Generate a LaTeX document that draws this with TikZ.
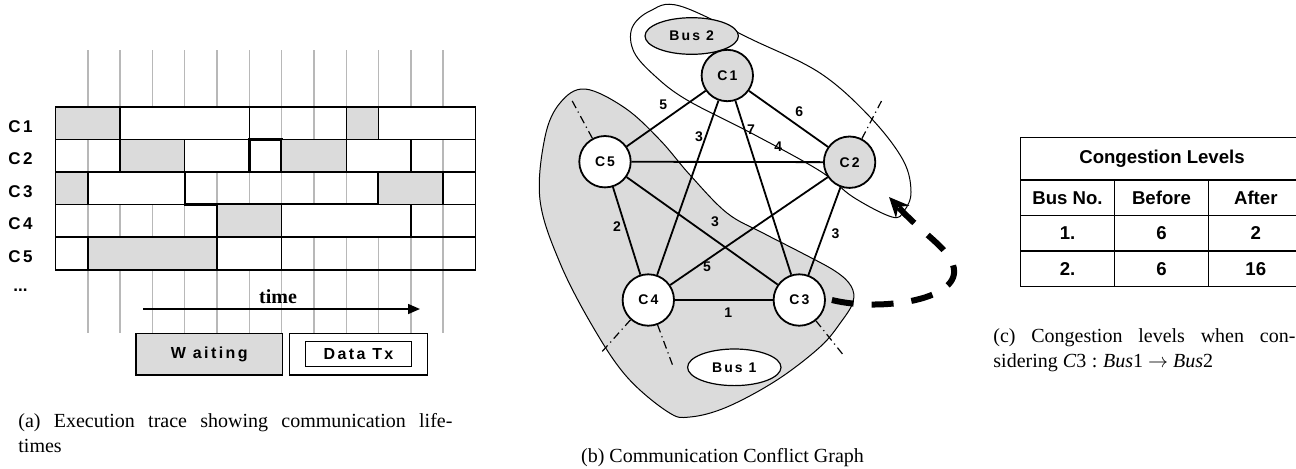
\documentclass[tikz,border=0pt]{standalone}
\usepackage{fontspec}
\setmainfont{Liberation Serif}
\setsansfont{Liberation Sans}
\newcommand\spacedbf[2]{\fontsize{#1}{#2}\selectfont\sffamily\bfseries\addfontfeature{LetterSpace=15}}
\usetikzlibrary{arrows.meta,shapes.geometric}
\definecolor{lightfill}{gray}{0.86}
\definecolor{gridgray}{gray}{0.72}

\begin{document}
\begin{tikzpicture}[x=0.5pt,y=-0.5pt,
  rowlbl/.style={font=\spacedbf{8.5}{9},inner sep=0pt},
  legend/.style={draw,line width=0.7pt,inner sep=0pt,font=\spacedbf{8}{9}},
  comm/.style={circle,draw,line width=0.9pt,minimum size=25.7pt,inner sep=0pt,font=\spacedbf{7}{8}},
  busname/.style={ellipse,draw,line width=0.6pt,minimum width=46.7pt,minimum height=18.3pt,inner sep=0pt,font=\spacedbf{7}{8}},
  elbl/.style={font=\sffamily\bfseries\fontsize{7}{8}\selectfont,inner sep=0pt},
  stub/.style={line width=0.6pt,dash pattern=on 4pt off 2pt on 0.6pt off 2pt},
  busmove/.style={line width=3pt,dash pattern=on 11pt off 9pt,-{Stealth[length=10pt,width=9pt]}},
  tbl/.style={font=\sffamily\bfseries\fontsize{9.3}{10}\selectfont,inner sep=0pt},
  capt/.style={font=\fontsize{10}{12.5}\selectfont,inner sep=0pt}]
  \useasboundingbox (0,0) rectangle (1296,468);

  % (a) execution trace
  \foreach \k in {1,...,12}
    \draw[gridgray,line width=0.7pt] ({55.5+32.3*\k},50) -- ({55.5+32.3*\k},333);
  \foreach \r/\s/\e/\c/\w in {1/0/2/lightfill/0.7, 1/2/6/white/0.7, 1/9/10/lightfill/0.7, 1/10/13/white/0.7,
      2/2/4/lightfill/0.7, 2/4/6/white/0.7, 2/6/7/white/1.3, 2/7/9/lightfill/0.7, 2/9/11/white/0.7,
      3/0/1/lightfill/0.7, 3/1/4/white/0.7, 3/4/10/none/1.2, 3/10/12/lightfill/0.7, 3/12/13/white/0.7,
      4/5/7/lightfill/0.7, 4/7/11/white/0.7,
      5/0/1/white/0.7, 5/1/5/lightfill/0.7, 5/5/7/white/0.7}
    \draw[line width=\w pt,fill=\c] ({55.5+32.3*\s},{106.7+32.6*(\r-1)}) rectangle ({55.5+32.3*\e},{106.7+32.6*\r});
  \foreach \r in {1,...,4}
    \draw[line width=0.7pt] (55.5,{106.7+32.6*\r}) -- (475.4,{106.7+32.6*\r});
  \draw[line width=0.8pt] (55.5,106.7) rectangle (475.4,269.7);
  \foreach \r in {1,...,5}
    \node[rowlbl,anchor=west] (lbl\r) at (8,{126.3+32.6*(\r-1)}) {C\r};
  \node[font=\sffamily\bfseries\fontsize{8.5}{9}\selectfont,inner sep=0pt,anchor=west] (more) at (13,290) {...};

  \coordinate (t0) at (143,309);
  \coordinate (t1) at (420,309);
  \draw[line width=0.8pt,-{Triangle[length=6pt,width=5pt]}] (t0) -- (t1);
  \node[font=\bfseries\fontsize{10}{12}\selectfont,inner sep=0pt,anchor=base] (timelbl) at (278,303) {time};

  \node[legend,fill=lightfill,minimum width=73.3pt,minimum height=20.8pt] (waitbox) at (209.3,354.2) {W aiting};
  \node[legend,minimum width=69.2pt,minimum height=20.8pt] (txbox) at (358.5,354.2) {};
  \node[legend,minimum width=53.2pt,minimum height=12.5pt] (txlbl) at (358.5,354.2) {Data Tx};

  \node[capt,anchor=north west,text width=217pt,align=justify] (capa) at (18,413)
    {(a) Execution trace showing communication life-\linebreak times};

  % (b) conflict graph
  \draw[fill=lightfill,line width=0.5pt] plot[smooth cycle,tension=0.6] coordinates {
    (585,89) (625,108) (660,140) (690,175) (727,213) (763,233) (800,252) (835,271)
    (851,286) (853,302) (841,322) (820,347) (777,380) (727,407) (690,417) (668,412)
    (627,377) (593,327) (560,263) (540,200) (545,137) (560,103)};
  \draw[line width=0.5pt] plot[smooth cycle,tension=0.6] coordinates {
    (680,6) (753,40) (820,73) (870,117) (903,160) (911,192) (904,211) (892,217)
    (853,197) (820,171) (753,134) (687,100) (655,76) (634,52) (632,28) (650,11)};

  \node[busname,fill=lightfill] (bus2) at (691.7,36) {Bus 2};
  \node[busname,fill=white] (bus1) at (734.3,367.3) {Bus 1};

  \node[comm,fill=lightfill] (C1) at (727.3,75.5) {C1};
  \node[comm,fill=lightfill] (C2) at (849.6,162.2) {C2};
  \node[comm,fill=white] (C5) at (605,161.7) {C5};
  \node[comm,fill=white] (C4) at (648.3,300) {C4};
  \node[comm,fill=white] (C3) at (799.3,300) {C3};

  \foreach \a/\b in {C1/C5, C1/C2, C1/C4, C1/C3, C5/C2, C5/C4, C5/C3, C2/C4, C2/C3, C4/C3}
    \draw[line width=0.9pt] (\a) -- (\b);

  \node[elbl] (w15) at (663.3,105) {5};
  \node[elbl] (w12) at (799.3,111.7) {6};
  \node[elbl] (w14) at (699,137) {3};
  \node[elbl] (w13) at (751,130) {7};
  \node[elbl] (w52) at (778.3,146.7) {4};
  \node[elbl] (w54) at (617,227) {2};
  \node[elbl] (w53) at (715,221.7) {3};
  \node[elbl] (w23) at (835.5,234) {3};
  \node[elbl] (w24) at (707,266.7) {5};
  \node[elbl] (w43) at (728.3,312.7) {1};

  \coordinate (s5) at (571.7,100);
  \coordinate (s2) at (882,100);
  \coordinate (s4a) at (601.7,352);
  \coordinate (s4b) at (673.3,367);
  \coordinate (s3) at (843.3,355);
  \draw[stub] (C5) -- (s5);
  \draw[stub] (C2) -- (s2);
  \draw[stub] (C4) -- (s4a);
  \draw[stub] (C4) -- (s4b);
  \draw[stub] (C3) -- (s3);

  \coordinate (bus2in) at (889,197);
  \draw[busmove] ([xshift=3pt]C3.east) .. controls (880,312) and (965,300) .. (953,265)
    .. controls (946,246) and (925,236) .. (bus2in);

  \node[capt,anchor=base] (capb) at (722.5,462) {(b) Communication Conflict Graph};

  % (c) congestion table
  \draw[line width=0.7pt] (1020.7,137.3) rectangle (1303,286.7);
  \foreach \y in {180,215.7,251}
    \draw[line width=0.7pt] (1020.7,\y) -- (1303,\y);
  \foreach \x in {1114.3,1208.7}
    \draw[line width=0.7pt] (\x,180) -- (\x,286.7);
  \node[tbl] (hdr) at (1162,158.7) {Congestion Levels};
  \foreach \a/\b/\c [count=\i] in {Bus No./Before/After, 1./6/2, 2./6/16} {
    \node[tbl] (ca\i) at (1067.5,{162.4+35.5*\i}) {\a};
    \node[tbl] (cb\i) at (1161.5,{162.4+35.5*\i}) {\b};
    \node[tbl] (cc\i) at (1255.8,{162.4+35.5*\i}) {\c};
  }

  \node[capt,anchor=north west,text width=151pt,align=justify] (capc) at (993,328)
    {(c) Congestion levels when con-\linebreak sidering \textit{C}3\;:\;\textit{Bus}1 $\rightarrow$ \textit{Bus}2};
\end{tikzpicture}
\end{document}
